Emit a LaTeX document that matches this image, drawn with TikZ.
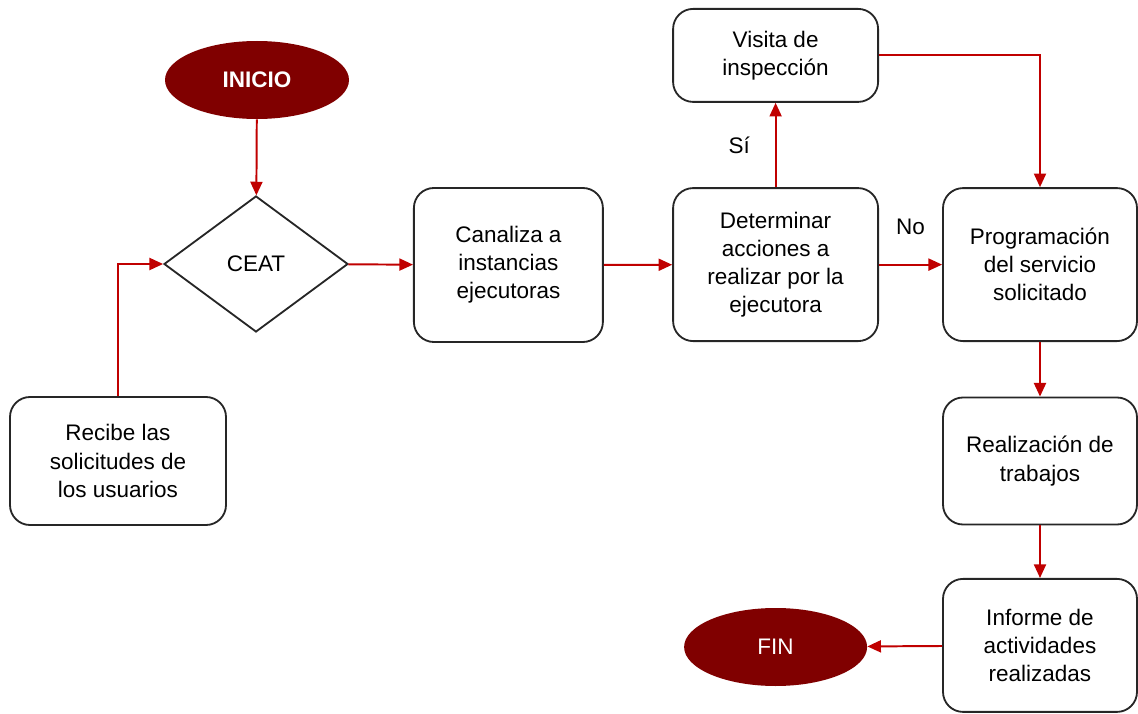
\documentclass[tikz,border=0pt]{standalone}
\usepackage{fontspec}
\setmainfont{Liberation Sans}
\usetikzlibrary{shapes.geometric,arrows.meta}
\definecolor{rojo}{HTML}{C00000}
\definecolor{guinda}{HTML}{800000}
\definecolor{borde}{HTML}{262626}
\begin{document}
\begin{tikzpicture}[
		font=\fontsize{16}{20}\selectfont,
		proceso/.style={draw=borde, line width=1.3pt, rounded corners=0.5cm, align=center},
		decision/.style={draw=borde, line width=1.3pt, diamond, inner sep=0pt, minimum width=4.6cm, minimum height=3.4cm},
		terminal/.style={ellipse, fill=guinda, text=white, minimum width=4.6cm, minimum height=1.95cm},
		flecha/.style={draw=rojo, line width=1.4pt, -{Triangle[length=0.34cm,width=0.3cm]}}
	]
			\useasboundingbox (0,0) rectangle (28.45,17.825);
			% nodos
			\node[terminal, font=\fontsize{16}{20}\selectfont\bfseries] (inicio) at (6.425,15.825) {INICIO};
			\node[decision] (ceat) at (6.4,11.225) {CEAT};
			\node[proceso, minimum width=4.725cm, minimum height=3.85cm] (canaliza) at (12.71,11.2) {Canaliza a\\instancias\\ejecutoras};
			\node[proceso, minimum width=5.4cm, minimum height=3.2cm] (recibe) at (2.95,6.3) {Recibe las\\solicitudes de\\los usuarios};
			\node[proceso, minimum width=5.125cm, minimum height=3.825cm] (determinar) at (19.39,11.21) {Determinar\\acciones a\\realizar por la\\ejecutora};
			\node[proceso, minimum width=5.125cm, minimum height=2.325cm] (visita) at (19.39,16.44) {Visita de\\inspección};
			\node[proceso, minimum width=4.85cm, minimum height=3.825cm] (programacion) at (26.0,11.21) {Programación\\del servicio\\solicitado};
			\node[proceso, minimum width=4.85cm, minimum height=3.175cm] (realizacion) at (26.0,6.3) {Realización de\\trabajos};
			\node[proceso, minimum width=4.85cm, minimum height=3.325cm] (informe) at (26.0,1.69) {Informe de\\actividades\\realizadas};
			\node[terminal, minimum width=4.575cm] (fin) at (19.39,1.65) {FIN};
			% conectores
			\draw[flecha] (inicio) -- (ceat);
			\draw[flecha] (recibe.north) |- (ceat.west);
			\draw[flecha] (ceat) -- (canaliza);
			\draw[flecha] (canaliza) -- (determinar);
			\draw[flecha] (determinar) -- node[midway, left=0.5cm, text=black] {Sí} (visita);
			\draw[flecha] (determinar) -- node[midway, above=0.6cm, text=black] {No} (programacion);
			\draw[flecha] (visita.east) -| (programacion.north);
			\draw[flecha] (programacion) -- (realizacion);
			\draw[flecha] (realizacion) -- (informe);
			\draw[flecha] (informe) -- (fin);
		\end{tikzpicture}
\end{document}
